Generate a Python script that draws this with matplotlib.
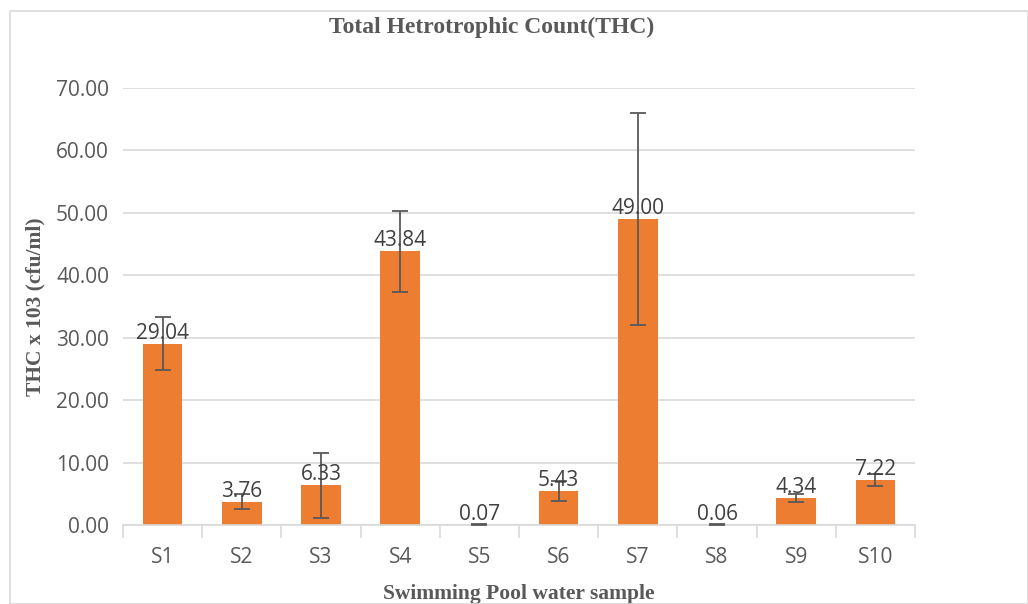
import matplotlib
matplotlib.use("Agg")
import matplotlib.pyplot as plt
from matplotlib.patches import Rectangle

categories = ["S1", "S2", "S3", "S4", "S5", "S6", "S7", "S8", "S9", "S10"]
values = [29.04, 3.76, 6.33, 43.84, 0.07, 5.43, 49.00, 0.06, 4.34, 7.22]
errors = [4.2, 1.2, 5.2, 6.5, 0.1, 1.6, 17.0, 0.1, 0.6, 1.0]
yticks = [0, 10, 20, 30, 40, 50, 60, 70]

fig = plt.figure(figsize=(10.28, 6.04), dpi=100)
fig.patches.append(Rectangle((10/1028, 0), 1 - 10/1028, 1 - 11/604, transform=fig.transFigure,
                             fill=False, edgecolor="#D9D9D9", linewidth=1.2))
ax = fig.add_axes([123/1028, 79/604, (915-123)/1028, (525-88)/604])

x = list(range(len(categories)))
ax.bar(x, values, width=0.5, color="#ED7D31", zorder=2)
ax.errorbar(x, values, yerr=errors, fmt="none", ecolor="#595959", elinewidth=1.3,
            capsize=6, capthick=1.3, zorder=3)
for xi, v in zip(x, values):
    ax.annotate(f"{v:.2f}", (xi, v), xytext=(0, 0), textcoords="offset points",
                ha="center", va="bottom", fontsize=15, color="#404040",
                family="Open Sans", zorder=4)

ax.set_xlim(-0.5, len(categories) - 0.5)
ax.set_ylim(0, 70)
ax.set_yticks(yticks)
ax.set_yticklabels([f"{t:.2f}" for t in yticks], family="Open Sans", fontsize=15, color="#595959")
ax.set_xticks(x)
ax.set_xticklabels(categories, family="Open Sans", fontsize=15, color="#595959")
ax.yaxis.grid(True, color="#D9D9D9", linewidth=1.2, zorder=0)
ax.set_axisbelow(True)
for s in ["top", "right", "left"]:
    ax.spines[s].set_visible(False)
ax.spines["bottom"].set_color("#D9D9D9")
ax.spines["bottom"].set_linewidth(1.2)
ax.tick_params(axis="y", length=0, pad=10)
ax.tick_params(axis="x", length=0, pad=16)
ax.set_xticks([i - 0.5 for i in range(len(categories) + 1)], minor=True)
ax.tick_params(axis="x", which="minor", length=9, color="#D9D9D9", width=1.2, direction="out")

ax.set_ylabel("THC x 103 (cfu/ml)", family="Liberation Serif", fontweight="bold",
              fontsize=15.5, color="#595959", labelpad=8)
ax.set_xlabel("Swimming Pool water sample", family="Liberation Serif", fontweight="bold",
              fontsize=15.5, color="#595959", labelpad=11)
fig.text(492/1028, 1 - 27/604, "Total Hetrotrophic Count(THC)", family="Liberation Serif",
         fontweight="bold", fontsize=17, color="#595959", ha="center", va="center")

fig.savefig("out.png", dpi=100)
